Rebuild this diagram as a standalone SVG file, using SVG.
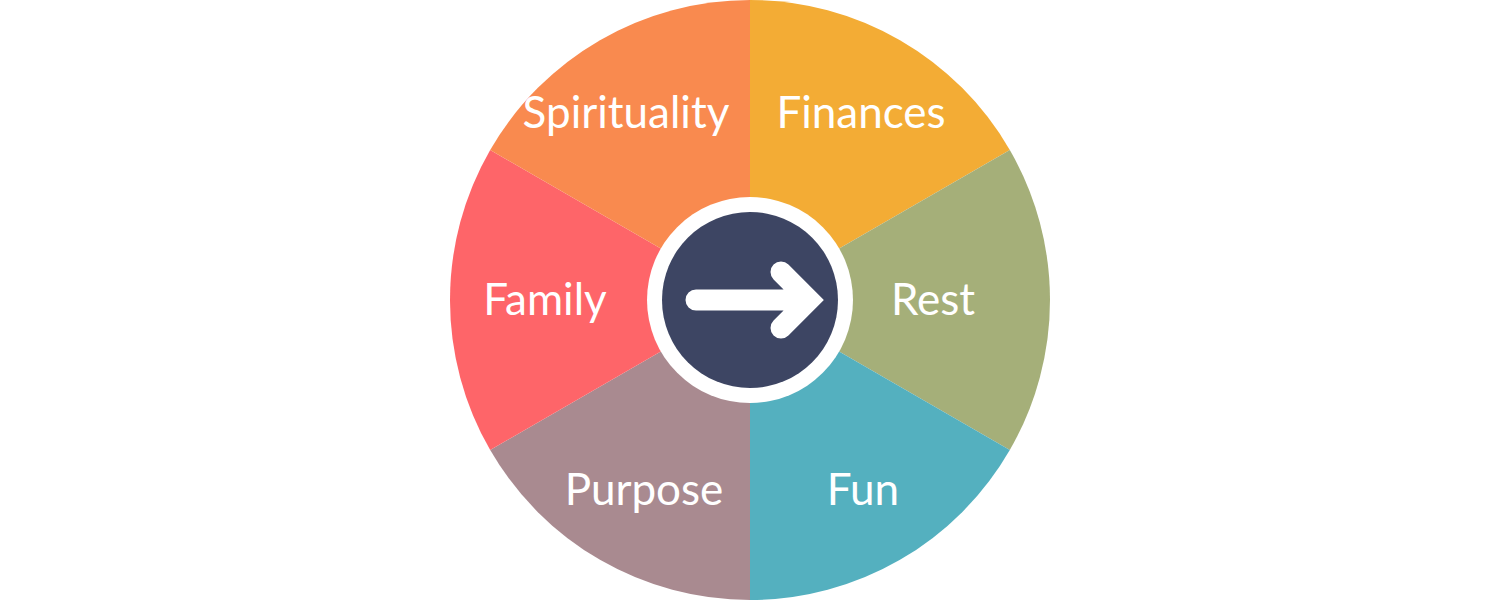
<svg xmlns="http://www.w3.org/2000/svg" width="1500" height="600" viewBox="0 0 1500 600">
<style>
.lbl{font-family:Lato,"Open Sans","Liberation Sans",sans-serif;font-size:44px;fill:#ffffff;text-anchor:middle}
</style>
<rect width="1500" height="600" fill="#ffffff"/>
<g id="seg-finances"><path d="M750 300 L750 0 A300 300 0 0 1 1009.81 150 Z" fill="#F3AC35"/><text class="lbl" x="861" y="128">Finances</text></g>
<g id="seg-rest"><path d="M750 300 L1009.81 150 A300 300 0 0 1 1009.81 450 Z" fill="#A5AF79"/><text class="lbl" x="933" y="315">Rest</text></g>
<g id="seg-fun"><path d="M750 300 L1009.81 450 A300 300 0 0 1 750 600 Z" fill="#54B0BF"/><text class="lbl" x="863" y="505">Fun</text></g>
<g id="seg-purpose"><path d="M750 300 L750 600 A300 300 0 0 1 490.19 450 Z" fill="#A98A90"/><text class="lbl" x="644" y="505">Purpose</text></g>
<g id="seg-family"><path d="M750 300 L490.19 450 A300 300 0 0 1 490.19 150 Z" fill="#FE6569"/><text class="lbl" x="545" y="315">Family</text></g>
<g id="seg-spirituality"><path d="M750 300 L490.19 150 A300 300 0 0 1 750 0 Z" fill="#F98A4F"/><text class="lbl" x="626" y="128">Spirituality</text></g>
<g id="center">
<circle cx="750" cy="300" r="103" fill="#ffffff"/>
<circle cx="750" cy="300" r="88" fill="#3D4563"/>
<path d="M696 300 H809 M781 272 L809 300 L781 328" fill="none" stroke="#ffffff" stroke-width="21" stroke-linecap="round" stroke-linejoin="miter"/>
</g>
<g id="connectors"></g>
</svg>
